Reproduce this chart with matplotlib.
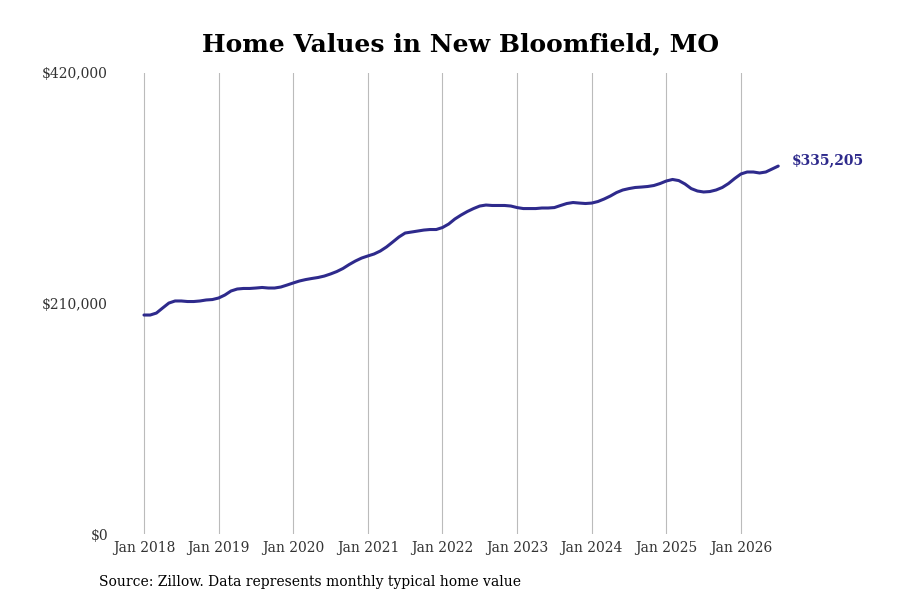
import matplotlib
matplotlib.use("Agg")
import matplotlib.pyplot as plt

# Monthly typical home value, Jan 2018 - Jul 2026 (thousands of dollars)
values_2018 = [199.5, 199.5, 201.3, 205.9, 210.4, 212.3, 212.3, 211.8, 211.8, 212.3, 213.2, 213.6]
values_2019 = [215.0, 217.7, 221.4, 223.2, 223.7, 223.7, 224.1, 224.6, 224.1, 224.1, 225.0, 226.8]
values_2020 = [228.7, 230.5, 231.8, 232.8, 233.7, 235.0, 236.9, 239.1, 241.9, 245.5, 248.7, 251.4]
values_2021 = [253.3, 255.1, 257.8, 261.5, 266.0, 270.6, 274.2, 275.1, 276.0, 276.9, 277.4, 277.4]
values_2022 = [279.2, 282.4, 287.0, 290.6, 293.8, 296.5, 298.8, 299.7, 299.3, 299.3, 299.3, 298.8]
values_2023 = [297.4, 296.5, 296.5, 296.5, 297.0, 297.0, 297.4, 299.3, 301.1, 302.0, 301.5, 301.1]
values_2024 = [301.5, 302.9, 305.2, 307.9, 311.1, 313.4, 314.7, 315.7, 316.1, 316.6, 317.5, 319.3]
values_2025 = [321.6, 323.0, 322.0, 318.9, 314.7, 312.5, 311.6, 312.0, 313.4, 315.7, 319.3, 323.9]
values_2026 = [328.0, 329.8, 329.8, 328.9, 329.8, 332.5, 335.205]

values = (values_2018 + values_2019 + values_2020 + values_2021 + values_2022
          + values_2023 + values_2024 + values_2025 + values_2026)
values = [v * 1000 for v in values]
months = list(range(len(values)))

tick_pos = [0, 12, 24, 36, 48, 60, 72, 84, 96]
tick_labels = ["Jan 2018", "Jan 2019", "Jan 2020", "Jan 2021", "Jan 2022",
               "Jan 2023", "Jan 2024", "Jan 2025", "Jan 2026"]
y_ticks = [0, 210000, 420000]
y_labels = ["$0", "$210,000", "$420,000"]
last_label = "$335,205"

line_color = "#2e2a8c"
plt.rcParams["font.family"] = "DejaVu Serif"

fig = plt.figure(figsize=(9, 6), dpi=100)
# axes box in pixels: left 115, right 800, bottom 534 (y=66 from bottom), top 73
ax = fig.add_axes([115 / 900, 66 / 600, 685 / 900, 461 / 600])

ax.plot(months, values, color=line_color, lw=2.2, solid_capstyle="round")

ax.set_xlim(-4.66, 105.5)
ax.set_ylim(0, 420000)
ax.set_xticks(tick_pos)
ax.set_xticklabels(tick_labels, fontsize=10, color="#333333")
ax.set_yticks(y_ticks)
ax.set_yticklabels(y_labels, fontsize=10, color="#333333")
ax.tick_params(axis="x", length=0, pad=5)
ax.tick_params(axis="y", length=0, pad=5)
ax.grid(axis="x", color="#bbbbbb", lw=0.8)
for s in ax.spines.values():
    s.set_visible(False)

ax.annotate(last_label, xy=(months[-1], values[-1]), xytext=(9.7, 4),
            textcoords="offset points", fontsize=10, fontweight="bold",
            color=line_color, va="center", ha="left", annotation_clip=False)

fig.text(461 / 900, 556 / 600, "Home Values in New Bloomfield, MO", ha="center",
         va="center", fontsize=18, fontweight="bold", color="black")
fig.text(99 / 900, 18 / 600, "Source: Zillow. Data represents monthly typical home value",
         ha="left", va="center", fontsize=10, color="black")

fig.savefig("out.png", dpi=100)
